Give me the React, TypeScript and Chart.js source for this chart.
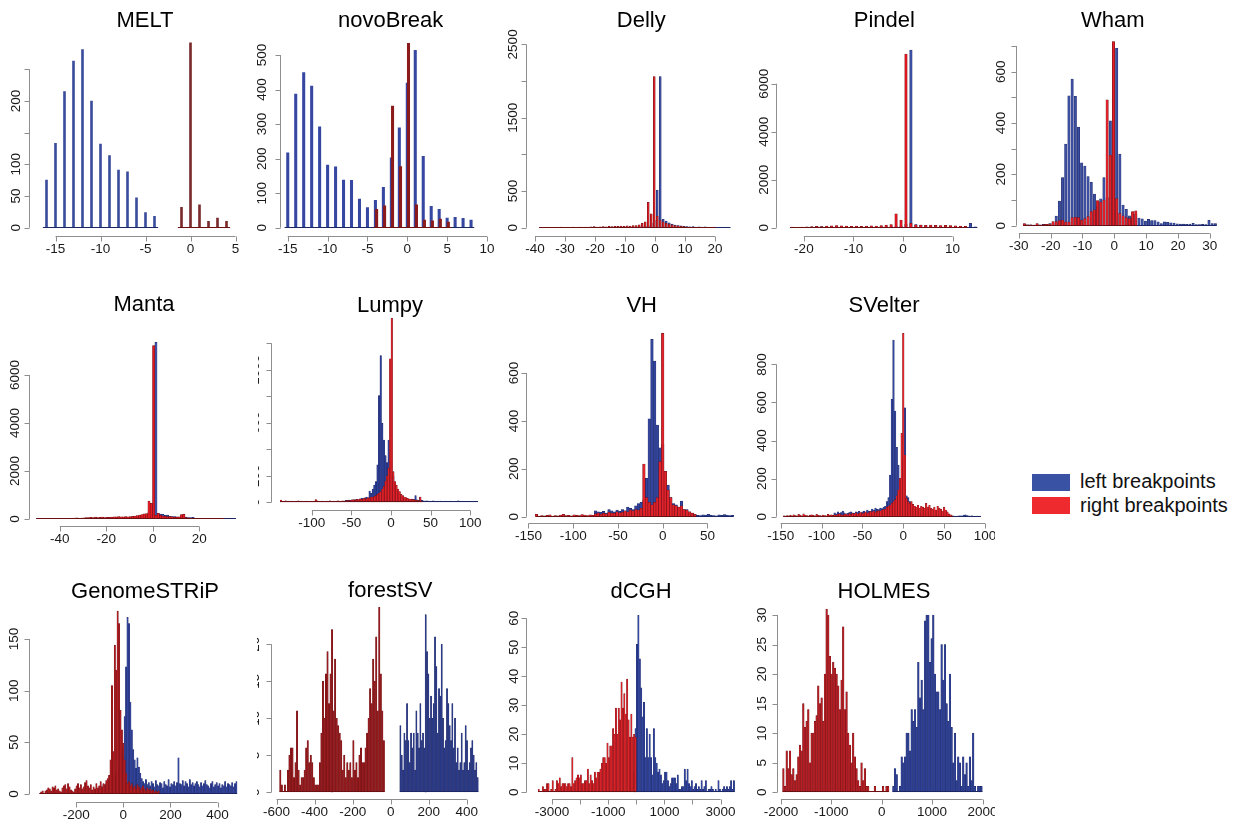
import React, { useEffect, useRef } from "react";
import { Chart, registerables } from "chart.js";

Chart.register(...registerables);

const FONT = '"Liberation Sans", Arial, Helvetica, sans-serif';
const AXIS_COLOR = "#8e8e8e";
const TEXT_COLOR = "#1a1a1a";
const BLUE_EDGE = "#1c2664";
const RED_EDGE = "#6a0f12";

// ---------------- MELT ----------------
const MELT_X_TICKS = [-15, -10, -5, 0, 5];
const MELT_Y_TICKS = [0, 50, 100, 150, 200, 250];
const MELT_Y_LABELS = ["0", "50", "100", "", "200", ""];
const MELT_BLUE_X0 = -16;
const MELT_BLUE = [75, 133, 215, 263, 281, 200, 132, 114, 91, 88, 47, 24, 18];
const MELT_RED_X0 = -1;
const MELT_RED = [32, 292, 36, 10, 15, 10];

// ---------------- novoBreak ----------------
const NOVO_X_TICKS = [-15, -10, -5, 0, 5, 10];
const NOVO_Y_TICKS = [0, 100, 200, 300, 400, 500];
const NOVO_Y_LABELS = ["0", "100", "200", "300", "400", "500"];
const NOVO_BLUE_X0 = -15;
const NOVO_BLUE = [217, 387, 449, 410, 292, 181, 176, 138, 137, 83, 58, 79, 117, 202, 289, 419, 514, 207, 62, 53, 28, 30, 27, 22];
const NOVO_RED_X0 = -3.85;
const NOVO_RED = [53, 63, 352, 177, 534, 66, 22, 20, 25, 16];

// ---------------- Delly ----------------
const DELLY_X_TICKS = [-40, -30, -20, -10, 0, 10, 20];
const DELLY_Y_TICKS = [0, 500, 1000, 1500, 2000, 2500];
const DELLY_Y_LABELS = ["0", "500", "", "1500", "", "2500"];
const DELLY_X0 = -38.25;
const DELLY_BLUE = [3, 2, 4, 3, 2, 5, 3, 4, 2, 3, 5, 4, 3, 6, 4, 3, 5, 4, 6, 5, 4, 6, 5, 7, 6, 5, 8, 7, 6, 9, 8, 10, 12,
  15, 18, 22, 30, 60, 100, 510, 2060, 115, 90, 68, 50, 36, 30, 25, 20, 15, 12, 15, 10, 12, 8, 12, 6, 5, 8, 5, 4, 3, 3, 3];
const DELLY_RED = [5, 3, 6, 4, 5, 6, 4, 7, 5, 6, 5, 8, 6, 7, 9, 8, 10, 12,
  14, 10, 12, 15, 13, 18, 15, 20, 18, 22, 20, 25, 22, 28, 30,
  40, 60, 80, 345, 190,
  2060, 160, 105, 80, 60, 50, 40, 30, 25, 20, 15, 10, 8, 6, 5, 4, 4, 3, 3, 2, 2];

// ---------------- Pindel ----------------
const PINDEL_X_TICKS = [-20, -10, 0, 10];
const PINDEL_Y_TICKS = [0, 2000, 4000, 6000];
const PINDEL_Y_LABELS = ["0", "2000", "4000", "6000"];
const PINDEL_X0 = -22.4;
const PINDEL_RED = [30, 20, 30, 40, 50, 60, 50, 70, 80, 90, 80, 70, 60, 70, 60, 70, 80, 70, 90, 110, 130, 583, 320, 7236,
  180, 120, 110, 100, 110, 100, 90, 100, 90, 80, 70, 60];
const PINDEL_BLUE = [10, 15, 20, 20, 30, 60, 50, 40, 35, 45, 40, 38, 42, 40, 36, 44, 40, 38, 42, 45, 50, 50, 80, 150, 7400,
  130, 110, 90, 80, 100, 70, 60, 70, 60, 50, 40, 180, 40];

// ---------------- Wham ----------------
const WHAM_X_TICKS = [-30, -20, -10, 0, 10, 20, 30];
const WHAM_Y_TICKS = [0, 100, 200, 300, 400, 500, 600, 700];
const WHAM_Y_LABELS = ["0", "", "200", "", "400", "", "600", ""];
const WHAM_X0 = -28.25;
const WHAM_BLUE = [5, 3, 3, 2, 4, 3, 5, 5, 8, 10, 37,
  96, 187, 318, 506, 571, 504, 384, 245, 232, 191, 169, 123, 78, 105, 187, 110, 409,
  250, 691, 279, 80, 64, 38, 30, 45, 30, 27, 18,
  25, 20, 20, 15, 8, 15, 13, 11, 10, 7, 6, 6, 5, 6, 9, 4, 4, 5, 4, 21, 8, 8];
const WHAM_RED = [8, 3, 3, 2, 8, 2, 4, 5, 6, 16, 16, 20, 22, 15, 14, 32, 33, 32, 22, 28,
  36, 55, 62, 98, 92, 100, 490, 275, 717, 106, 48, 38, 32, 28, 55, 58];

// ---------------- Manta ----------------
const MANTA_X_TICKS = [-40, -20, 0, 20];
const MANTA_Y_TICKS = [0, 2000, 4000, 6000];
const MANTA_Y_LABELS = ["0", "2000", "4000", "6000"];
const MANTA_X0 = -49.6;
const MANTA_BLUE = [10, 8, 10, 12, 10, 8, 12, 10, 15, 12, 10, 15, 12, 18, 15, 12, 20, 15, 18, 20,
  30, 25, 30, 35, 30, 40, 35, 40, 45, 40, 50, 45, 50, 55, 50, 60, 55, 60, 65, 60,
  70, 75, 80, 90, 100, 110, 130, 150, 300, 600,
  650, 7361, 230, 200, 190, 150, 160, 110, 100, 100, 90, 80, 90, 200, 80, 60, 60, 70, 30, 25, 20,
  18, 15, 15, 12, 12, 10, 10, 8, 8, 8, 6, 6, 5, 5, 5];
const MANTA_RED = [5, 5, 6, 5, 6, 8, 8, 10, 10, 12, 12, 15, 15, 20, 25, 30, 40, 45, 30, 40,
  50, 55, 60, 70, 60, 80, 60, 70, 85, 60, 65, 70, 80, 90, 95, 100, 95, 90, 100, 95,
  100, 110, 120, 140, 160, 180, 220, 230, 750, 650,
  7222, 150, 236, 150, 120, 110, 100, 100, 90, 80, 80, 90, 180, 190, 60, 40, 30, 20, 15, 12, 10, 10, 8, 8, 6, 6, 5, 5, 4, 4, 3];

// ---------------- Lumpy ----------------
const LUMPY_X_TICKS = [-100, -50, 0, 50, 100];
const LUMPY_Y_TICKS = [0, 200, 400, 600, 800, 1000, 1200];
const LUMPY_Y_LABELS = ["0", "200", "", "600", "", "1000", ""];
const LUMPY_X0 = -139;
const LUMPY_BLUE = [4, 3, 5, 2, 4, 3, 6, 3, 4, 5, 3, 4, 2, 5, 3, 4, 6, 3, 5, 4, 3, 6, 4, 5, 3, 7, 4, 5, 6, 4, 3, 5, 6, 4, 7, 5, 6, 8, 5, 7,
  10, 14, 8, 16, 12, 18, 14, 20, 22, 18, 26, 30, 28, 34, 40, 32, 85, 68, 100, 130,
  156, 282, 805, 1107, 596, 470, 352, 300, 470, 250, 150, 200, 120, 80, 60, 50, 40, 30, 28, 25,
  22, 20, 18, 25, 20, 50, 18, 15, 40, 14, 12, 10, 12, 9, 10, 8, 11, 9, 8, 10,
  7, 9, 6, 8, 10, 7, 6, 9, 8, 5, 7, 6, 12, 8, 6, 5, 7, 6, 8, 5, 4, 6, 5, 4, 6];
const LUMPY_RED = [17, 8, 5, 12, 6, 9, 4, 10, 7, 5, 8, 12, 6, 9, 5, 7, 10, 6, 4, 8, 5, 9, 20, 12, 7, 6, 9, 5, 8, 10, 6, 12, 8, 10, 7, 9, 12, 10, 8, 11,
  10, 12, 15, 12, 15, 18, 20, 15, 22, 20, 25, 22, 28, 30, 25, 35, 30, 40, 38, 45,
  50, 60, 70, 80, 100, 120, 160, 200, 256, 1082, 1389, 231, 156, 130, 100, 80, 60, 50, 40, 35,
  30, 25, 25, 20, 20, 15, 15, 12, 40, 10];

// ---------------- VH ----------------
const VH_X_TICKS = [-150, -100, -50, 0, 50];
const VH_Y_TICKS = [0, 200, 400, 600];
const VH_Y_LABELS = ["0", "200", "400", "600"];
const VH_RED_X0 = -141;
const VH_RED = [10, 3, 5, 4, 6, 8, 3, 5, 4, 7, 10, 5, 6, 4, 8, 6, 5, 9, 7, 5, 8, 6,
  12, 15, 10, 14, 12, 18, 15, 14, 20, 16, 18, 25, 20, 28, 25, 30, 28, 35,
  220, 80, 60, 50, 60, 80, 230, 766, 190, 111, 80, 50, 45, 40, 45, 30, 28, 20, 15, 10];
const VH_BLUE_X0 = -75;
const VH_BLUE = [25, 20, 18, 22, 15, 30, 25, 20, 28, 22, 30, 25, 40, 35, 30, 45, 55, 60,
  70, 160, 409, 741, 650, 383, 288, 302, 130, 132, 80, 55, 50, 40, 65, 30, 30, 20, 15, 10,
  6, 5, 8, 7, 10, 6, 5, 4, 8, 6, 9, 7, 5, 6];

// ---------------- SVelter ----------------
const SV_X_TICKS = [-150, -100, -50, 0, 50, 100];
const SV_Y_TICKS = [0, 200, 400, 600, 800];
const SV_Y_LABELS = ["0", "200", "400", "600", "800"];
const SV_BLUE_X0 = -84;
const SV_BLUE = [20, 15, 25, 18, 22, 30, 20, 15, 18, 22, 25, 20, 18, 25, 22, 28, 20, 25, 30, 22, 35, 30, 28, 40, 35, 45, 40, 38, 45, 42, 50, 55,
  80, 100, 219, 616, 928, 555, 364, 271, 200, 187, 300, 572, 110, 100, 80, 60, 50, 40, 30, 25, 20,
  15, 12, 10, 8, 10, 7, 8, 6, 5, 6, 4, 5, 3, 4, 3, 2, 3, 2, 3, 4, 3, 2, 3, 4, 5, 4, 8, 10, 6, 4, 3, 5, 3, 2, 3, 2, 3];
const SV_RED_X0 = -146;
const SV_RED = [5, 3, 6, 4, 8, 5, 10, 6, 4, 12, 8, 5, 15, 9, 6, 4, 8, 10, 7, 5, 12, 8, 6, 4, 9, 6, 5, 12, 8, 10, 7,
  10, 8, 12, 15, 10, 8, 12, 14, 10, 16, 12, 18, 15, 20, 14, 18, 22, 16, 20, 25, 18, 22, 28, 25, 30, 22, 28, 32, 30, 35, 38, 40,
  50, 55, 60, 70, 80, 90, 110, 140, 200, 438, 963, 324, 96, 79, 70, 80, 65, 55, 50, 60, 45,
  55, 50, 45, 70, 50, 60, 45, 40, 50, 35, 55, 45, 40, 30, 50, 35, 25, 15, 10, 5];

// ---------------- GenomeSTRiP ----------------
const GS_X_TICKS = [-200, 0, 200, 400];
const GS_Y_TICKS = [0, 50, 100, 150];
const GS_Y_LABELS = ["0", "50", "100", "150"];
const GS_RED_X0 = -354;
const GS_RED = [0, 2, 3, 0, 3, 4, 6, 5, 3, 7, 6, 8, 4, 5, 3, 2, 6, 8, 9, 5, 10, 7, 4, 3, 2, 5, 8, 10, 6, 9,
  5, 7, 11, 13, 8, 6, 9, 4, 7, 5, 10, 6, 8, 12, 7, 10, 9, 13, 15, 18,
  33, 105, 41, 144, 120, 177, 165, 81, 62, 49,
  33, 20, 10, 12, 8, 10, 6, 8, 5, 9, 7, 4, 6, 8, 5, 3, 6, 4, 5, 3, 4, 2, 3, 2, 3];
const GS_BLUE_X0 = -102;
const GS_BLUE = [5, 8, 4, 9, 6, 10, 8, 12,
  12, 15, 14, 18, 20, 22, 28, 32, 38,
  43, 75, 123, 171, 165, 89, 62, 43, 33, 25, 35, 26, 20,
  15, 12, 10, 14, 9, 11, 8, 12, 10, 7, 13, 9, 8, 11, 10, 6, 12, 9, 8, 14,
  7, 10, 9, 12, 8, 11, 35, 10, 9, 13, 8, 12, 10, 7, 14, 9, 11, 8, 10, 12,
  9, 7, 11, 8, 10, 13, 9, 8, 6, 10, 12, 7, 9, 11, 8, 10, 6, 9, 8, 12, 7, 10, 9, 8, 11, 7, 10, 12];

// ---------------- forestSV ----------------
const FS_X_TICKS = [-600, -400, -200, 0, 200, 400];
const FS_Y_TICKS = [0, 5, 10, 15, 20];
const FS_Y_LABELS = ["0", "5", "10", "15", "20"];
const FS_RED_X0 = -580;
const FS_RED = [3, 1, 0, 1, 0, 3, 5, 6, 6, 2, 4, 11, 3, 1, 2, 2, 3, 6, 7, 4, 5, 4, 2, 1, 1, 1, 4, 8, 15, 10,
  16, 19, 12, 16, 22, 11, 18, 10, 9, 8, 7, 3, 5, 2, 4, 3, 4, 2, 7, 3, 4, 2, 5, 6, 4, 4, 6, 8, 10, 14,
  12, 18, 15, 21, 11, 25, 16, 11, 7];
const FS_BLUE_X0 = 51;
const FS_BLUE = [9, 5, 3, 8, 7, 12, 7, 4, 8, 6, 8, 3, 11, 8, 6, 12, 7, 8, 6, 24, 19, 16, 10, 13, 10, 12, 21, 17, 8, 14,
  13, 20, 10, 6, 7, 14, 12, 9, 7, 12, 6, 10, 4, 6, 3, 4, 8, 3, 4, 9, 7, 3, 4, 6, 7, 5, 3, 4, 2];

// ---------------- dCGH ----------------
const DC_X_TICKS = [-3000, -2000, -1000, 0, 1000, 2000, 3000];
const DC_X_LABELS = ["-3000", "", "-1000", "", "1000", "", "3000"];
const DC_Y_TICKS = [0, 10, 20, 30, 40, 50, 60];
const DC_Y_LABELS = ["0", "10", "20", "30", "40", "50", "60"];
const DC_RED_X0 = -3475;
const DC_RED = [1, 0, 0, 2, 1, 1, 3, 3, 0, 1, 4, 0, 1, 4, 3, 5, 2, 3, 3, 3, 2, 3, 3, 2, 12, 3, 4, 5, 6, 5,
  6, 3, 3, 4, 4, 8, 3, 6, 4, 3, 7, 5, 7, 7, 8, 10, 12, 12, 10, 17, 12, 16, 16, 22, 20, 29, 20, 29, 25, 38,
  29, 34, 27, 39, 25, 19, 27, 19, 20, 19];
const DC_BLUE_X0 = -75;
const DC_BLUE = [7, 22, 51, 61, 46, 36, 26, 31, 12, 22, 12, 20, 12, 6, 22, 12, 10, 7, 8, 6, 3, 4, 7, 7, 4, 2, 3, 5, 5, 5,
  3, 6, 1, 1, 2, 2, 8, 4, 8, 3, 2, 4, 1, 2, 3, 1, 2, 1, 4, 1, 2, 4, 0, 1, 1, 2, 1, 0, 1, 0, 4, 1, 0, 1, 2, 1, 2, 1, 2, 4, 1, 4];

// ---------------- HOLMES ----------------
const HO_X_TICKS = [-2000, -1000, 0, 1000, 2000];
const HO_Y_TICKS = [0, 5, 10, 15, 20, 25, 30];
const HO_Y_LABELS = ["0", "5", "10", "15", "20", "25", "30"];
const HO_RED_X0 = -1951;
const HO_RED = [4, 1, 7, 4, 7, 3, 4, 2, 3, 6, 8, 7, 15, 11, 12, 14, 5, 10, 10, 12, 13, 18, 15, 16, 12, 20, 31, 30, 23, 20,
  22, 21, 20, 18, 14, 19, 28, 14, 17, 10, 8, 5, 10, 6, 4, 2, 1, 5, 2, 4, 1, 1, 0, 0, 0, 1, 0, 0, 0, 0, 1, 0, 1, 1];
const HO_BLUE_X0 = 232;
const HO_BLUE = [1, 4, 3, 0, 1, 6, 5, 6, 10, 10, 7, 14, 12, 14, 11, 22, 16, 19, 14, 29, 30, 30, 22, 26, 30, 20, 17, 17, 14, 25,
  19, 25, 15, 12, 20, 11, 5, 10, 2, 6, 5, 1, 6, 3, 5, 1, 6, 2, 10, 1, 0, 1, 1, 1];

const LEGEND_LABELS = ["left breakpoints", "right breakpoints"];

// ---------------- types / layout ----------------
type Series = { x0: number; step: number; values: number[]; fill: string; edge: string };
type Panel = {
  title: string;
  box: [number, number, number, number];
  x0px: number; kx: number; xlim: [number, number];
  y0px: number; ky: number; topPx: number;
  yAxisPx: number; yLabelPx: number; xAxisPx: number;
  titleX: number; titleY: number;
  xTicks: number[]; xLabels?: string[]; yTicks: number[]; yLabels: string[];
  barRatio: number; edgeWidth: number;
  blue: Series; red: Series;
};

const S = (x0: number, step: number, values: number[], fill: string, edge: string): Series => ({ x0, step, values, fill, edge });

const PANELS: Panel[] = [
  {
    title: "MELT", box: [0, 0, 245, 268], x0px: 190.5, kx: 9.0, xlim: [-17, 5.5],
    y0px: 227.7, ky: 0.6335, topPx: 36, yAxisPx: 30, yLabelPx: 16, xAxisPx: 235.5,
    titleX: 145, titleY: 26.5, xTicks: MELT_X_TICKS, yTicks: MELT_Y_TICKS, yLabels: MELT_Y_LABELS,
    barRatio: 0.22, edgeWidth: 0,
    blue: S(MELT_BLUE_X0, 1, MELT_BLUE, "#3a4c9c", BLUE_EDGE), red: S(MELT_RED_X0, 1, MELT_RED, "#7a2a2a", RED_EDGE),
  },
  {
    title: "novoBreak", box: [245, 0, 250, 268], x0px: 407.3, kx: 7.97, xlim: [-15.6, 10.2],
    y0px: 227.7, ky: 0.3453, topPx: 36, yAxisPx: 281, yLabelPx: 262, xAxisPx: 235.5,
    titleX: 390.7, titleY: 26.5, xTicks: NOVO_X_TICKS, yTicks: NOVO_Y_TICKS, yLabels: NOVO_Y_LABELS,
    barRatio: 0.3, edgeWidth: 0,
    blue: S(NOVO_BLUE_X0, 1, NOVO_BLUE, "#3547a0", BLUE_EDGE), red: S(NOVO_RED_X0, 1, NOVO_RED, "#8b1a1a", RED_EDGE),
  },
  {
    title: "Delly", box: [495, 0, 250, 268], x0px: 655, kx: 3.0, xlim: [-40.5, 25.8],
    y0px: 227.7, ky: 0.07333, topPx: 36, yAxisPx: 526.7, yLabelPx: 513, xAxisPx: 235.5,
    titleX: 641.3, titleY: 26.5, xTicks: DELLY_X_TICKS, yTicks: DELLY_Y_TICKS, yLabels: DELLY_Y_LABELS,
    barRatio: 0.65, edgeWidth: 0.5,
    blue: S(DELLY_X0, 1, DELLY_BLUE, "#3d50a4", BLUE_EDGE), red: S(DELLY_X0, 1, DELLY_RED, "#d42026", RED_EDGE),
  },
  {
    title: "Pindel", box: [745, 0, 250, 268], x0px: 903, kx: 4.956, xlim: [-23.5, 15.5],
    y0px: 227.7, ky: 0.024, topPx: 36, yAxisPx: 776.7, yLabelPx: 764, xAxisPx: 235.5,
    titleX: 884.3, titleY: 26.5, xTicks: PINDEL_X_TICKS, yTicks: PINDEL_Y_TICKS, yLabels: PINDEL_Y_LABELS,
    barRatio: 0.5, edgeWidth: 0.5,
    blue: S(PINDEL_X0, 1, PINDEL_BLUE, "#3b4fa5", BLUE_EDGE), red: S(PINDEL_X0, 1, PINDEL_RED, "#e0151f", RED_EDGE),
  },
  {
    title: "Wham", box: [995, 0, 254, 268], x0px: 1114.3, kx: 3.183, xlim: [-29.2, 33],
    y0px: 225.7, ky: 0.2567, topPx: 34, yAxisPx: 1016.7, yLabelPx: 1001, xAxisPx: 233,
    titleX: 1112.7, titleY: 26.5, xTicks: WHAM_X_TICKS, yTicks: WHAM_Y_TICKS, yLabels: WHAM_Y_LABELS,
    barRatio: 0.75, edgeWidth: 0.5,
    blue: S(WHAM_X0, 1, WHAM_BLUE, "#3c4fa2", BLUE_EDGE), red: S(WHAM_X0, 1, WHAM_RED, "#e2202a", RED_EDGE),
  },
  {
    title: "Manta", box: [0, 285, 245, 268], x0px: 152.7, kx: 2.323, xlim: [-50.5, 36],
    y0px: 519, ky: 0.024, topPx: 328, yAxisPx: 30, yLabelPx: 15, xAxisPx: 525.7,
    titleX: 144, titleY: 311, xTicks: MANTA_X_TICKS, yTicks: MANTA_Y_TICKS, yLabels: MANTA_Y_LABELS,
    barRatio: 0.95, edgeWidth: 0.5,
    blue: S(MANTA_X0, 1, MANTA_BLUE, "#3d50a5", BLUE_EDGE), red: S(MANTA_X0, 1, MANTA_RED, "#e41b23", RED_EDGE),
  },
  {
    title: "Lumpy", box: [258, 285, 237, 268], x0px: 391, kx: 0.7917, xlim: [-141, 111],
    y0px: 502.3, ky: 0.1325, topPx: 310, yAxisPx: 272.3, yLabelPx: 255.5, xAxisPx: 509.5,
    titleX: 390, titleY: 311.5, xTicks: LUMPY_X_TICKS, yTicks: LUMPY_Y_TICKS, yLabels: LUMPY_Y_LABELS,
    barRatio: 0.95, edgeWidth: 0.4,
    blue: S(LUMPY_X0, 2, LUMPY_BLUE, "#2d3f96", BLUE_EDGE), red: S(LUMPY_X0, 2, LUMPY_RED, "#e0212a", RED_EDGE),
  },
  {
    title: "VH", box: [495, 285, 250, 268], x0px: 662.7, kx: 0.895, xlim: [-144, 81],
    y0px: 516.7, ky: 0.2394, topPx: 325, yAxisPx: 526.7, yLabelPx: 514, xAxisPx: 523.3,
    titleX: 641.7, titleY: 311.5, xTicks: VH_X_TICKS, yTicks: VH_Y_TICKS, yLabels: VH_Y_LABELS,
    barRatio: 0.95, edgeWidth: 0.5,
    blue: S(VH_BLUE_X0, 3, VH_BLUE, "#32449c", BLUE_EDGE), red: S(VH_RED_X0, 3, VH_RED, "#e0222a", RED_EDGE),
  },
  {
    title: "SVelter", box: [745, 285, 250, 268], x0px: 903.3, kx: 0.8177, xlim: [-148, 96],
    y0px: 516.7, ky: 0.1904, topPx: 325, yAxisPx: 776.7, yLabelPx: 762.3, xAxisPx: 523.3,
    titleX: 884, titleY: 311.5, xTicks: SV_X_TICKS, yTicks: SV_Y_TICKS, yLabels: SV_Y_LABELS,
    barRatio: 0.95, edgeWidth: 0.4,
    blue: S(SV_BLUE_X0, 2, SV_BLUE, "#34469d", BLUE_EDGE), red: S(SV_RED_X0, 2, SV_RED, "#e4232b", RED_EDGE),
  },
  {
    title: "GenomeSTRiP", box: [0, 570, 245, 253], x0px: 123.3, kx: 0.2358, xlim: [-358, 484],
    y0px: 794, ky: 1.0333, topPx: 600, yAxisPx: 30, yLabelPx: 14, xAxisPx: 801.7,
    titleX: 145, titleY: 598.3, xTicks: GS_X_TICKS, yTicks: GS_Y_TICKS, yLabels: GS_Y_LABELS,
    barRatio: 0.95, edgeWidth: 0.35,
    blue: S(GS_BLUE_X0, 6, GS_BLUE, "#33459c", BLUE_EDGE), red: S(GS_RED_X0, 6, GS_RED, "#b01d22", RED_EDGE),
  },
  {
    title: "forestSV", box: [257, 570, 238, 253], x0px: 390.7, kx: 0.1903, xlim: [-590, 465],
    y0px: 792.3, ky: 7.4, topPx: 600, yAxisPx: 272.3, yLabelPx: 255, xAxisPx: 799.3,
    titleX: 390.3, titleY: 597, xTicks: FS_X_TICKS, yTicks: FS_Y_TICKS, yLabels: FS_Y_LABELS,
    barRatio: 0.9, edgeWidth: 0.35,
    blue: S(FS_BLUE_X0, 7, FS_BLUE, "#2b3a88", BLUE_EDGE), red: S(FS_RED_X0, 8, FS_RED, "#961c1f", RED_EDGE),
  },
  {
    title: "dCGH", box: [495, 570, 250, 253], x0px: 636.3, kx: 0.0281, xlim: [-3510, 3510],
    y0px: 792.3, ky: 2.9, topPx: 600, yAxisPx: 526.7, yLabelPx: 514, xAxisPx: 799.3,
    titleX: 641, titleY: 597.5, xTicks: DC_X_TICKS, xLabels: DC_X_LABELS, yTicks: DC_Y_TICKS, yLabels: DC_Y_LABELS,
    barRatio: 0.95, edgeWidth: 0.35,
    blue: S(DC_BLUE_X0, 50, DC_BLUE, "#33469e", BLUE_EDGE), red: S(DC_RED_X0, 50, DC_RED, "#d9232a", RED_EDGE),
  },
  {
    title: "HOLMES", box: [745, 570, 250, 253], x0px: 881.7, kx: 0.0504, xlim: [-1975, 2005],
    y0px: 792.3, ky: 5.91, topPx: 600, yAxisPx: 777.5, yLabelPx: 762, xAxisPx: 799.3,
    titleX: 884, titleY: 597.5, xTicks: HO_X_TICKS, yTicks: HO_Y_TICKS, yLabels: HO_Y_LABELS,
    barRatio: 0.95, edgeWidth: 0.35,
    blue: S(HO_BLUE_X0, 33, HO_BLUE, "#2f4195", BLUE_EDGE), red: S(HO_RED_X0, 33, HO_RED, "#b41e24", RED_EDGE),
  },
];

function buildChart(canvas: HTMLCanvasElement, p: Panel) {
  const [bx, by, bw, bh] = p.box;
  const left = p.x0px + p.kx * p.xlim[0];
  const right = p.x0px + p.kx * p.xlim[1];
  const ymax = (p.y0px - p.topPx) / p.ky;

  const ds = (s: Series, order: number) => ({
    data: s.values.map((v, i) => ({ x: s.x0 + i * s.step, y: v })),
    backgroundColor: s.fill,
    borderColor: s.edge,
    borderWidth: p.edgeWidth,
    borderSkipped: "start" as const,
    barThickness: p.kx * s.step * p.barRatio,
    grouped: false,
    order,
  });

  const axesPlugin = {
    id: "rAxes",
    afterDatasetsDraw(chart: any) {
      const ctx: CanvasRenderingContext2D = chart.ctx;
      const xs = chart.scales.x;
      const ys = chart.scales.y;
      const y0 = Math.round(ys.getPixelForValue(0)) - 0.5;
      ctx.save();
      for (const s of [p.blue, p.red]) {
        const a = xs.getPixelForValue(s.x0 - s.step * 0.4);
        const b = xs.getPixelForValue(s.x0 + (s.values.length - 0.6) * s.step);
        ctx.strokeStyle = s.edge;
        ctx.lineWidth = 1;
        ctx.beginPath();
        ctx.moveTo(a, y0);
        ctx.lineTo(b, y0);
        ctx.stroke();
      }
      ctx.restore();
    },
    afterDraw(chart: any) {
      const ctx: CanvasRenderingContext2D = chart.ctx;
      const xs = chart.scales.x;
      const ys = chart.scales.y;
      ctx.save();
      ctx.strokeStyle = AXIS_COLOR;
      ctx.lineWidth = 1;
      // x axis
      const ay = Math.round(p.xAxisPx - by) + 0.5;
      const xt = p.xTicks.map((t) => xs.getPixelForValue(t));
      ctx.beginPath();
      ctx.moveTo(xt[0], ay);
      ctx.lineTo(xt[xt.length - 1], ay);
      for (const x of xt) {
        ctx.moveTo(Math.round(x) + 0.5, ay);
        ctx.lineTo(Math.round(x) + 0.5, ay + 5);
      }
      ctx.stroke();
      ctx.fillStyle = TEXT_COLOR;
      ctx.font = `13.5px ${FONT}`;
      ctx.textAlign = "center";
      ctx.textBaseline = "middle";
      p.xTicks.forEach((t, i) => {
        const lab = p.xLabels ? p.xLabels[i] : String(t);
        if (lab) ctx.fillText(lab, xt[i], ay + 12.5);
      });
      // y axis
      const ax = Math.round(p.yAxisPx - bx) - 0.5;
      const yt = p.yTicks.map((t) => ys.getPixelForValue(t));
      ctx.beginPath();
      ctx.moveTo(ax, yt[0]);
      ctx.lineTo(ax, yt[yt.length - 1]);
      for (const y of yt) {
        ctx.moveTo(ax, Math.round(y) + 0.5);
        ctx.lineTo(ax - 5, Math.round(y) + 0.5);
      }
      ctx.stroke();
      p.yTicks.forEach((t, i) => {
        const lab = p.yLabels[i];
        if (!lab) return;
        ctx.save();
        ctx.translate(p.yLabelPx - bx, yt[i]);
        ctx.rotate(-Math.PI / 2);
        ctx.fillText(lab, 0, 0);
        ctx.restore();
      });
      // title
      ctx.font = `22px ${FONT}`;
      ctx.fillStyle = "#000";
      ctx.textBaseline = "alphabetic";
      ctx.fillText(p.title, p.titleX - bx, p.titleY - by);
      ctx.restore();
    },
  };

  return new Chart(canvas, {
    type: "bar",
    data: { datasets: [ds(p.red, 0), ds(p.blue, 1)] as any },
    options: {
      responsive: false,
      animation: false,
      events: [],
      layout: {
        padding: {
          left: left - bx,
          right: bx + bw - right,
          top: p.topPx - by,
          bottom: by + bh - p.y0px,
        },
      },
      scales: {
        x: { type: "linear", min: p.xlim[0], max: p.xlim[1], display: false, offset: false, bounds: "data", grid: { offset: false } } as any,
        y: { type: "linear", min: 0, max: ymax, display: false },
      },
      plugins: { legend: { display: false }, tooltip: { enabled: false }, title: { display: false } },
    },
    plugins: [axesPlugin],
  });
}

function PanelChart({ p }: { p: Panel }) {
  const ref = useRef<HTMLCanvasElement>(null);
  useEffect(() => {
    if (!ref.current) return;
    const chart = buildChart(ref.current, p);
    return () => chart.destroy();
  }, [p]);
  const [bx, by, bw, bh] = p.box;
  return (
    <canvas
      ref={ref}
      width={bw}
      height={bh}
      style={{ position: "absolute", left: bx, top: by, width: bw, height: bh }}
    />
  );
}

export default function App() {
  return (
    <div style={{ position: "absolute", left: 0, top: 0, width: 1249, height: 823, background: "#fff", overflow: "hidden" }}>
      {PANELS.map((p) => (
        <PanelChart key={p.title} p={p} />
      ))}
      <div style={{ position: "absolute", left: 1032, top: 474, width: 38, height: 17, background: "#3a52a4" }} />
      <div style={{ position: "absolute", left: 1032, top: 497, width: 38, height: 17, background: "#ee2a2f" }} />
      <div style={{ position: "absolute", left: 1080, top: 469, font: `20px ${FONT}`, lineHeight: "24px", color: "#111", whiteSpace: "nowrap" }}>
        {LEGEND_LABELS[0]}
      </div>
      <div style={{ position: "absolute", left: 1080, top: 493, font: `20px ${FONT}`, lineHeight: "24px", color: "#111", whiteSpace: "nowrap" }}>
        {LEGEND_LABELS[1]}
      </div>
    </div>
  );
}
